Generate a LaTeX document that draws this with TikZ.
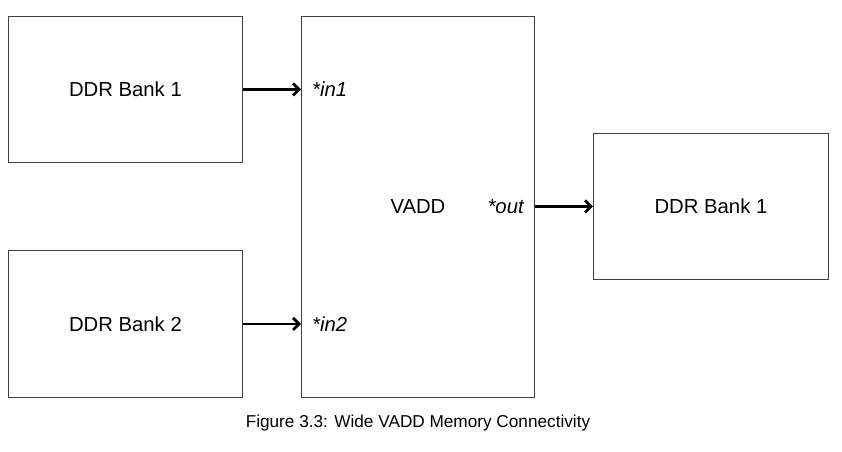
\documentclass[tikz,border=0pt]{standalone}
\usepackage{fontspec}
\setmainfont{Liberation Sans}
\usetikzlibrary{arrows.meta}
\begin{document}
\begin{tikzpicture}[x=1pt,y=-1pt,
  box/.style={draw=black!75,line width=0.9pt,anchor=north west,inner sep=0pt,font=\fontsize{20.3}{24}\selectfont},
  port/.style={font=\fontsize{20.3}{24}\selectfont\itshape,inner sep=0pt},
  conn/.style={line width=2.8pt,-{Straight Barb[length=6pt,width=12pt,line width=2.8pt]}}]
\useasboundingbox (0,0) rectangle (842,451);
\node[box,minimum width=234pt,minimum height=146pt] (b1) at (8,16) {DDR Bank 1};
\node[box,minimum width=234pt,minimum height=147pt] (b2) at (8,250) {DDR Bank 2};
\node[box,minimum width=233pt,minimum height=381pt] (vadd) at (301,16) {VADD};
\node[box,minimum width=235pt,minimum height=146pt] (b3) at (593,133) {DDR Bank 1};
\coordinate (p1) at (vadd.west |- b1.east);
\coordinate (p2) at (vadd.west |- b2.east);
\coordinate (po) at (vadd.east |- b3.west);
\node[port,anchor=west] (in1) at ([xshift=11pt]p1) {*in1};
\node[port,anchor=west] (in2) at ([xshift=11pt]p2) {*in2};
\node[port,anchor=east] (out) at ([xshift=-11pt]po) {*out};
\draw[conn] (b1.east) -- (p1);
\draw[conn] (b2.east) -- (p2);
\draw[conn] (po) -- (b3.west);
\node[font=\fontsize{17.2}{20}\selectfont] (cap) at (418,423) {Figure 3.3: Wide VADD Memory Connectivity};
\end{tikzpicture}
\end{document}
